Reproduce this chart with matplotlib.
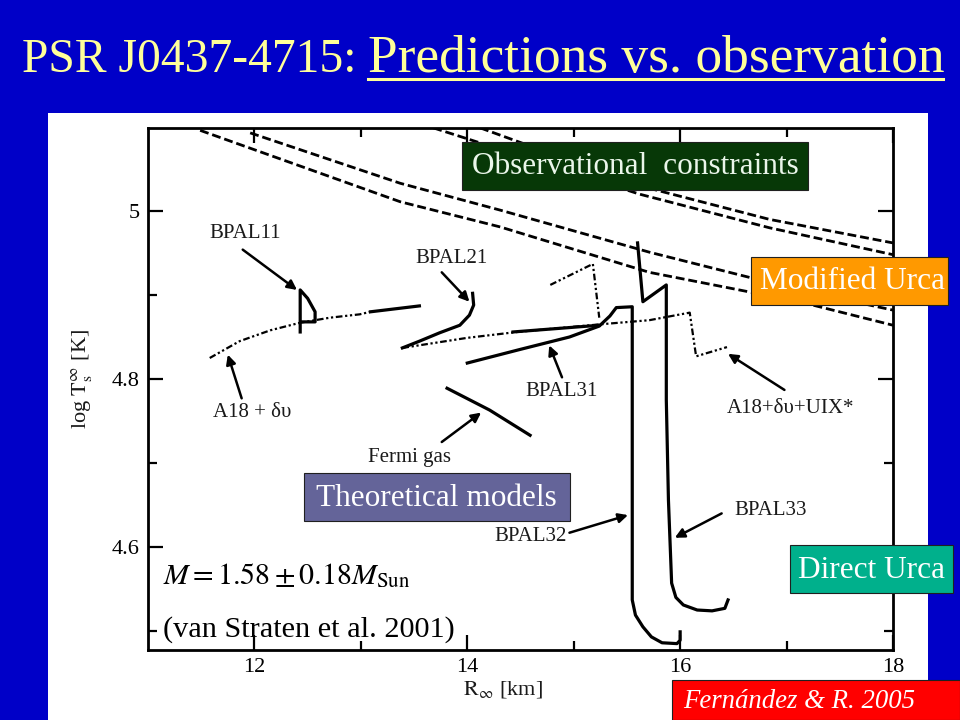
"""PSR J0437-4715: predictions vs. observation (slide figure)"""
import matplotlib.pyplot as plt
from matplotlib.patches import Rectangle
from matplotlib.lines import Line2D

plt.rcParams['font.family'] = ['Liberation Serif', 'DejaVu Serif']
plt.rcParams['mathtext.fontset'] = 'stix'

# Observational constraints (dashed), R_inf [km] vs log Ts_inf [K]
obs_a_r = [14.12, 15.62, 16.84, 18.0]
obs_a_t = [5.099, 5.030, 4.990, 4.962]
obs_b_r = [13.68, 15.62, 16.84, 18.0]
obs_b_t = [5.099, 5.020, 4.980, 4.948]
obs_c_r = [11.96, 13.37, 14.31, 15.71, 17.12, 18.0]
obs_c_t = [5.093, 5.033, 5.001, 4.951, 4.906, 4.882]
obs_d_r = [11.49, 13.37, 14.31, 15.71, 17.12, 18.0]
obs_d_t = [5.096, 5.011, 4.981, 4.927, 4.892, 4.864]

# Modified Urca models (dash-dot)
a18_r = [11.58, 11.86, 12.15, 12.43, 12.71, 12.99, 13.09]
a18_t = [4.825, 4.845, 4.858, 4.867, 4.873, 4.877, 4.880]
uix_r = [13.39, 14.00, 14.47, 15.24, 15.71, 16.09, 16.15, 16.44]
uix_t = [4.837, 4.849, 4.856, 4.865, 4.870, 4.879, 4.827, 4.838]
uix_b_r = [14.78, 15.18, 15.24]
uix_b_t = [4.912, 4.937, 4.873]

# Direct Urca models (solid)
bpal11_r = [12.43, 12.43, 12.50, 12.57, 12.57, 12.46]
bpal11_t = [4.856, 4.906, 4.896, 4.880, 4.868, 4.868]
bpal11_tail_r = [13.09, 13.55]
bpal11_tail_t = [4.880, 4.887]
bpal21_r = [14.05, 14.06, 14.02, 13.93, 13.74, 13.55, 13.39]
bpal21_t = [4.902, 4.888, 4.876, 4.864, 4.855, 4.845, 4.837]
bpal_seg_r = [14.43, 15.24]
bpal_seg_t = [4.856, 4.864]
bpal32_r = [14.00, 14.49, 14.96, 15.24, 15.34, 15.40, 15.55, 15.55, 15.55,
            15.58, 15.65, 15.73, 15.83, 15.97, 16.00, 16.00]
bpal32_t = [4.819, 4.835, 4.850, 4.863, 4.875, 4.885, 4.886, 4.715, 4.537,
            4.519, 4.505, 4.493, 4.486, 4.485, 4.489, 4.499]
bpal33_r = [15.60, 15.65, 15.87, 15.87, 15.89, 15.92, 15.96, 16.03, 16.16,
            16.30, 16.42, 16.45]
bpal33_t = [4.962, 4.892, 4.912, 4.775, 4.656, 4.557, 4.540, 4.531, 4.525,
            4.524, 4.527, 4.537]
fermi_r = [13.81, 14.21, 14.59]
fermi_t = [4.789, 4.763, 4.733]

# labels: text, text position, arrow tail, arrow tip
labels = ["BPAL11", "BPAL21", "A18 + δυ", "BPAL31", "A18+δυ+UIX*",
          "Fermi gas", "BPAL32", "BPAL33"]
label_xy = [(11.91, 4.973), (13.85, 4.944), (11.98, 4.760), (14.89, 4.785),
            (17.04, 4.765), (13.46, 4.706), (14.59, 4.612), (16.85, 4.644)]
arrow_from = [(11.89, 4.954), (13.76, 4.927), (11.88, 4.777), (14.89, 4.802),
              (16.98, 4.787), (13.76, 4.725), (14.96, 4.617), (16.39, 4.640)]
arrow_to = [(12.40, 4.906), (14.02, 4.892), (11.75, 4.829), (14.77, 4.840),
            (16.45, 4.830), (14.13, 4.760), (15.51, 4.638), (15.95, 4.611)]

W, H = 960, 720


def fx(px):
    return px / W


def fy(py):
    return 1 - py / H


fig = plt.figure(figsize=(9.6, 7.2), dpi=100, facecolor='#0000C8')

# white panel behind the plot
fig.add_artist(Rectangle((fx(48), 0), 880 / W, 607 / H, transform=fig.transFigure,
                         fc='white', ec='none', zorder=-1))

ax = fig.add_axes([fx(148), fy(650), 745 / W, 522 / H])
ax.set_xlim(11.0, 18.0)
ax.set_ylim(4.4774, 5.0988)

dash = dict(color='black', lw=2.0, dashes=(3.2, 1.4))
for r, t in [(obs_a_r, obs_a_t), (obs_b_r, obs_b_t),
             (obs_c_r, obs_c_t), (obs_d_r, obs_d_t)]:
    ax.plot(r, t, **dash)

dd = dict(color='black', lw=1.6, dashes=(3, 1.2, 1, 1.2, 1, 1.2))
for r, t in [(a18_r, a18_t), (uix_r, uix_t), (uix_b_r, uix_b_t)]:
    ax.plot(r, t, **dd)

sol = dict(color='black', lw=2.3, solid_joinstyle='round')
for r, t in [(bpal11_r, bpal11_t), (bpal11_tail_r, bpal11_tail_t),
             (bpal21_r, bpal21_t), (bpal_seg_r, bpal_seg_t),
             (bpal32_r, bpal32_t), (bpal33_r, bpal33_t), (fermi_r, fermi_t)]:
    ax.plot(r, t, **sol)

for lab, xy, a0, a1 in zip(labels, label_xy, arrow_from, arrow_to):
    ax.text(xy[0], xy[1], lab, ha='center', va='center', fontsize=15,
            color='#1a1a1a')
    ax.annotate('', xy=a1, xytext=a0,
                arrowprops=dict(arrowstyle='-|>', color='black', lw=1.8,
                                mutation_scale=14, shrinkA=0, shrinkB=0))

# axes styling
ax.set_xticks([12, 14, 16, 18])
ax.set_xticks([13, 15, 17], minor=True)
ax.set_yticks([4.6, 4.8, 5.0], ['4.6', '4.8', '5'])
ax.set_yticks([4.5, 4.7, 4.9], minor=True)
ax.tick_params(which='both', direction='in', top=True, right=True,
               width=1.6, labelsize=16, colors='black')
ax.tick_params(which='major', length=11, pad=6)
ax.tick_params(which='minor', length=6.5)
for s in ax.spines.values():
    s.set_linewidth(2.0)
ax.set_xlabel(r'$\mathrm{R}_\infty$ [km]', fontsize=16, color='#1a1a1a')
ax.set_ylabel(r'log $\mathrm{T}_\mathrm{s}^\infty$ [K]', fontsize=16, color='#1a1a1a')
ax.xaxis.set_label_coords(0.4765, -0.056)
ax.yaxis.set_label_coords(-0.072, 0.52)

# title
fig.text(fx(22), fy(72), "PSR J0437-4715:", fontsize=34.3, color='#FFFF99',
         va='baseline')
fig.text(fx(368), fy(72), "Predictions vs. observation", fontsize=38.4,
         color='#FFFF99', va='baseline')
fig.add_artist(Line2D([fx(368), fx(943)], [fy(79), fy(79)], color='#FFFF99',
                      lw=2.2, transform=fig.transFigure))

# coloured boxes: text, box (x0, y0, x1, y1) in pixels, text centre x
boxes = [
    ("Observational  constraints", (462, 142, 808, 190), 635, '#073807', '#EAF6EA', False, 22.5),
    ("Modified Urca", (751, 257, 948, 305), 852, '#FF9900', 'white', False, 22.5),
    ("Theoretical models", (304, 473, 570, 521), 436, '#646499', 'white', False, 22.5),
    ("Direct Urca", (790, 545, 953, 593), 872, '#00B08C', 'white', False, 22.5),
    ("Fernández & R. 2005", (672, 680, 960, 720), 799, '#FF0000', 'white', True, 19.3),
]
for txt, (x0, y0, x1, y1), xc, fc, tc, ital, fs in boxes:
    fig.add_artist(Rectangle((fx(x0), fy(y1)), (x1 - x0) / W, (y1 - y0) / H,
                             transform=fig.transFigure, fc=fc, ec='#202020',
                             lw=0.8, zorder=5))
    fig.text(fx(xc), fy((y0 + y1) / 2 + 1), txt, fontsize=fs, color=tc,
             ha='center', va='center', style='italic' if ital else 'normal',
             zorder=6)

# mass note
fig.text(fx(163), fy(584), r'$M = 1.58 \pm 0.18 M_{\mathrm{Sun}}$', fontsize=21.5,
         va='baseline', color='black', zorder=6)
fig.text(fx(163), fy(637), "(van Straten et al. 2001)", fontsize=21.8,
         va='baseline', color='black', zorder=6)

fig.savefig('out.png', dpi=100, facecolor=fig.get_facecolor())
